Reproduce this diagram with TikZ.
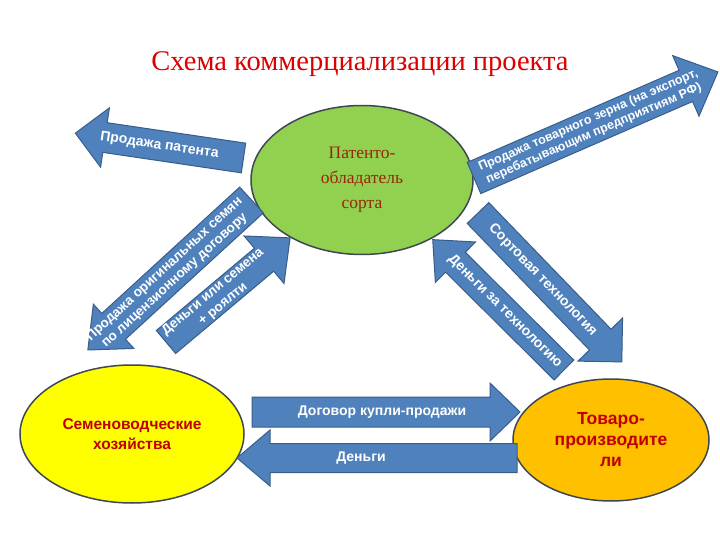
\documentclass[tikz,border=0pt]{standalone}
\usepackage{fontspec}
\setmainfont{Liberation Serif}
\setsansfont{Liberation Sans}
\usetikzlibrary{shapes.geometric}
\definecolor{arrfill}{RGB}{79,129,189}
\definecolor{arrline}{RGB}{56,93,138}
\definecolor{elline}{RGB}{62,72,82}
\definecolor{greenfill}{RGB}{146,208,80}
\definecolor{yellowfill}{RGB}{255,255,0}
\definecolor{orangefill}{RGB}{255,192,0}
\definecolor{txtred}{RGB}{192,0,0}
\definecolor{txtbrown}{RGB}{150,40,10}
\definecolor{titlered}{RGB}{220,0,0}

\pgfkeys{/fa/.cd,
  bw/.store in=\faBW, hw/.store in=\faHW, hl/.store in=\faHL,
  len/.store in=\faL, tf/.store in=\faTF, fs/.store in=\faFS, ls/.store in=\faLS}

\tikzset{
  arrowbody/.style={fill=arrfill, draw=arrline, line width=1pt, line join=miter},
  arrowtext/.style={text=white, align=center, inner sep=0pt},
  bubble/.style={ellipse, draw=elline, line width=1.5pt, inner sep=0pt, align=center}
}

% #1 name, #2 tail point, #3 direction angle, #4 keys, #5 text rotation, #6 text
\newcommand\fatarrow[6]{%
  \pgfkeys{/fa/.cd, bw=30, hw=60, hl=32, len=200, tf=0.5, fs=14, ls=15, #4}%
  \begin{scope}[shift={#2}, rotate=#3]
    \draw[arrowbody] (0,{-\faBW/2}) -- ({\faL-\faHL},{-\faBW/2}) -- ({\faL-\faHL},{-\faHW/2})
      -- (\faL,0) -- ({\faL-\faHL},{\faHW/2}) -- ({\faL-\faHL},{\faBW/2}) -- (0,{\faBW/2}) -- cycle;
    \node[arrowtext, rotate=#5, font={\sffamily\bfseries\fontsize{\faFS}{\faLS}\selectfont}]
      (#1) at ({\faTF*\faL},0) {#6};
  \end{scope}}

\begin{document}
\begin{tikzpicture}[x=1pt,y=-1pt]
\useasboundingbox[fill=white] (0,0) rectangle (720,540);

\node[text=titlered, font=\fontsize{28.5}{32}\selectfont] (title) at (360,64) {Схема коммерциализации проекта};

\node[bubble, fill=greenfill, minimum width=222pt, minimum height=149pt,
      text=txtbrown, font=\fontsize{17.5}{25}\selectfont] (pat) at (362,180)
      {Патенто-\\обладатель\\сорта};
\node[bubble, fill=yellowfill, minimum width=224pt, minimum height=138pt,
      text=txtred, font=\sffamily\bfseries\fontsize{15.5}{20}\selectfont] (sem) at (132,434)
      {Семеноводческие\\хозяйства};
\node[bubble, fill=orangefill, minimum width=196pt, minimum height=122pt,
      text=txtred, font=\sffamily\bfseries\fontsize{17.5}{21}\selectfont] (tov) at (611,440)
      {Товаро-\\производите\\ли};

\fatarrow{a1}{(243.5,158)}{171.6}{len=170, bw=30, hw=60, hl=30, tf=0.5}{-8.4}{Продажа патента}
\fatarrow{a2}{(474,178)}{23.5}{len=266, bw=34, hw=66, hl=35, tf=0.48, fs=12.5, ls=14}{23.5}{Продажа товарного зерна (на экспорт,\\перебатывающим предприятиям РФ)}
\fatarrow{a3}{(251.5,200)}{222.5}{len=222, bw=35, hw=60, hl=35, tf=0.5, fs=13.5, ls=15}{42.5}{Продажа оригинальных семян\\по лицензионному договору}
\fatarrow{a4}{(166,342)}{40}{len=162, bw=30, hw=62, hl=34, tf=0.42, fs=13.5, ls=16}{40}{Деньги или семена\\+ роялти}
\fatarrow{a5}{(478,213)}{-46}{len=207, bw=30, hw=62, hl=31, tf=0.45}{-46}{Сортовая технология}
\fatarrow{a6}{(564,370)}{135.2}{len=185, bw=28, hw=57, hl=32, tf=0.45}{-44.8}{Деньги за технологию}
\fatarrow{a7}{(252,412)}{0}{len=268, bw=30, hw=58, hl=30, tf=0.485}{0}{Договор купли-продажи}
\fatarrow{a8}{(517,458)}{180}{len=280, bw=29, hw=56, hl=33, tf=0.557}{0}{Деньги}
\end{tikzpicture}
\end{document}
